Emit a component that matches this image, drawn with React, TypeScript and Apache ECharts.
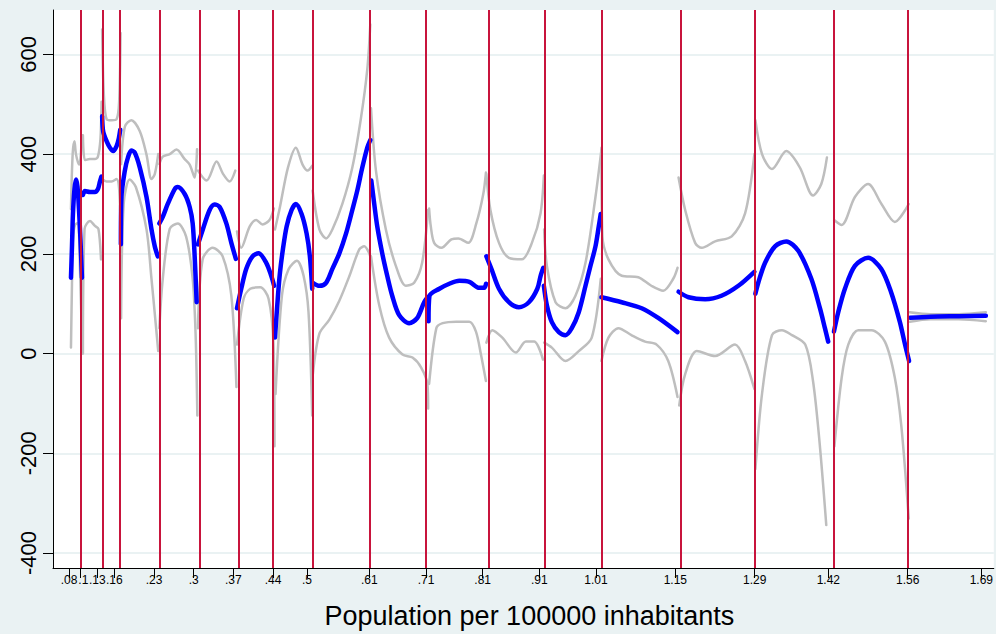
import React, { useEffect, useRef } from "react";
import * as echarts from "echarts";

const xTickValues = [0.08, 0.1, 0.13, 0.16, 0.23, 0.3, 0.37, 0.44, 0.5, 0.61, 0.71, 0.81, 0.91, 1.01, 1.15, 1.29, 1.42, 1.56, 1.69];
const xTickLabels = [".08", ".1", ".13", ".16", ".23", ".3", ".37", ".44", ".5", ".61", ".71", ".81", ".91", "1.01", "1.15", "1.29", "1.42", "1.56", "1.69"];
const yTickValues = [-400, -200, 0, 200, 400, 600];
const knotValues = [0.1046, 0.138, 0.1716, 0.238, 0.307, 0.376, 0.443, 0.5096, 0.613, 0.714, 0.816, 0.918, 1.018, 1.155, 1.291, 1.427, 1.562];

const fitSegments: number[][][] = [
  [[0.0835, 152], [0.0853, 215], [0.087, 280], [0.0897, 330], [0.0923, 349], [0.095, 335], [0.0976, 290], [0.1002, 230], [0.1029, 152]],
  [[0.1046, 318], [0.1082, 326], [0.117, 324], [0.1258, 324], [0.1311, 330], [0.1346, 345], [0.1372, 355]],
  [[0.1385, 476], [0.1404, 445], [0.1464, 426], [0.1522, 413], [0.158, 406], [0.164, 416], [0.168, 432], [0.1705, 449]],
  [[0.1716, 219], [0.1726, 314], [0.1786, 367], [0.184, 393], [0.19, 407], [0.196, 403], [0.205, 373], [0.2168, 314], [0.2256, 249], [0.2314, 215], [0.2367, 195]],
  [[0.2395, 261], [0.2455, 274], [0.2543, 300], [0.2666, 330], [0.2719, 334], [0.2842, 320], [0.293, 294], [0.2983, 261], [0.3018, 195], [0.3053, 103]],
  [[0.3076, 219], [0.3159, 248], [0.3282, 288], [0.337, 299], [0.3459, 294], [0.3577, 261], [0.3665, 222], [0.3745, 190]],
  [[0.3765, 91], [0.384, 130], [0.3929, 170], [0.4039, 195], [0.4145, 201], [0.4281, 182], [0.4369, 156], [0.442, 136]],
  [[0.4435, 32], [0.4488, 116], [0.4523, 162], [0.4575, 209], [0.4641, 255], [0.4729, 288], [0.4804, 300], [0.4905, 280], [0.4993, 241], [0.5051, 195], [0.5092, 130]],
  [[0.5104, 142], [0.5219, 136], [0.5337, 142], [0.5448, 170], [0.5571, 201], [0.569, 241], [0.58, 288], [0.5888, 327], [0.5976, 373], [0.6064, 413], [0.6117, 428]],
  [[0.6135, 347], [0.6187, 300], [0.624, 255], [0.6328, 201], [0.6416, 156], [0.6504, 116], [0.6627, 77], [0.6803, 61], [0.6944, 71], [0.7068, 103], [0.713, 113]],
  [[0.7145, 65], [0.716, 115], [0.7336, 130], [0.7512, 140], [0.7688, 146], [0.7864, 144], [0.804, 132], [0.8128, 132], [0.816, 140]],
  [[0.8166, 195], [0.8254, 170], [0.8388, 130], [0.8564, 103], [0.874, 93], [0.8916, 103], [0.9065, 130], [0.9123, 156], [0.917, 172]],
  [[0.918, 136], [0.9233, 97], [0.9321, 63], [0.9444, 43], [0.9562, 37], [0.9673, 51], [0.9796, 83], [0.9915, 136], [1.0003, 176], [1.0091, 215], [1.0149, 255], [1.0184, 280]],
  [[1.0196, 113], [1.0554, 103], [1.0906, 91], [1.1205, 71], [1.1539, 43]],
  [[1.1557, 124], [1.1733, 113], [1.2027, 109], [1.2314, 116], [1.2613, 136], [1.2895, 164]],
  [[1.2913, 120], [1.2966, 143], [1.3084, 182], [1.326, 215], [1.3459, 225], [1.367, 206], [1.39, 150], [1.4052, 91], [1.414, 51], [1.4198, 24]],
  [[1.4299, 44], [1.4375, 83], [1.4493, 130], [1.4669, 176], [1.4903, 192], [1.5132, 170], [1.5308, 123], [1.5461, 64], [1.5554, 18], [1.5625, -15]],
  [[1.564, 72], [1.6, 74], [1.65, 75], [1.698, 76]],
];

const upperSegments: number[][][] = [
  [[0.0835, 290], [0.0865, 400], [0.0897, 426], [0.0923, 400], [0.0976, 379], [0.1002, 390], [0.1029, 438]],
  [[0.1046, 438], [0.1082, 388], [0.117, 390], [0.1258, 390], [0.1311, 395], [0.1355, 430], [0.1375, 505]],
  [[0.1385, 650], [0.1415, 520], [0.1464, 470], [0.1552, 468], [0.164, 470], [0.1685, 505], [0.171, 643]],
  [[0.172, 380], [0.1786, 455], [0.19, 468], [0.205, 446], [0.2168, 399], [0.2256, 350], [0.2314, 360], [0.2375, 400]],
  [[0.2395, 380], [0.2455, 395], [0.2578, 400], [0.2696, 409], [0.2842, 390], [0.293, 379], [0.3018, 353], [0.306, 410]],
  [[0.3076, 367], [0.3229, 347], [0.3405, 385], [0.352, 360], [0.3634, 345], [0.3735, 367]],
  [[0.3765, 245], [0.384, 212], [0.399, 255], [0.4105, 268], [0.4216, 259], [0.4339, 268], [0.4416, 291]],
  [[0.4435, 249], [0.4523, 294], [0.4664, 373], [0.4804, 413], [0.4922, 379], [0.5011, 367], [0.5096, 377]],
  [[0.51, 327], [0.5219, 249], [0.5337, 231], [0.5448, 249], [0.5624, 300], [0.58, 373], [0.5952, 472], [0.6064, 570], [0.6117, 660]],
  [[0.613, 492], [0.6217, 367], [0.6392, 249], [0.6568, 176], [0.6744, 136], [0.6891, 142], [0.7032, 182], [0.7138, 288]],
  [[0.7155, 291], [0.7185, 255], [0.7244, 222], [0.7372, 212], [0.7548, 229], [0.7671, 231], [0.7847, 222], [0.7988, 261], [0.8111, 320], [0.8158, 363]],
  [[0.8166, 360], [0.8237, 288], [0.8388, 222], [0.8564, 192], [0.8793, 189], [0.8969, 222], [0.9121, 281], [0.918, 357]],
  [[0.9185, 249], [0.9233, 176], [0.9386, 103], [0.9562, 91], [0.9738, 116], [0.9915, 182], [1.0091, 314], [1.0196, 409]],
  [[1.0196, 413], [1.0214, 235], [1.032, 189], [1.0554, 156], [1.0847, 153], [1.1076, 136], [1.1287, 126], [1.1463, 150], [1.1539, 172]],
  [[1.1557, 353], [1.1674, 288], [1.185, 222], [1.1967, 212], [1.2202, 225], [1.2495, 235], [1.2731, 281], [1.2895, 400]],
  [[1.2913, 468], [1.303, 400], [1.3206, 370], [1.3459, 406], [1.3694, 374], [1.393, 317], [1.4076, 340], [1.4175, 393]],
  [[1.4302, 268], [1.4436, 258], [1.4669, 314], [1.4903, 340], [1.5138, 300], [1.5373, 264], [1.5619, 300]],
  [[1.5637, 83], [1.6, 79], [1.65, 79], [1.698, 83]],
];

const lowerSegments: number[][][] = [
  [[0.0835, 12], [0.0853, 140], [0.087, 230], [0.0906, 258], [0.0958, 262], [0.0994, 170], [0.1035, 0]],
  [[0.1046, 0], [0.1075, 250], [0.117, 266], [0.1258, 256], [0.132, 250], [0.1365, 189]],
  [[0.1385, 350], [0.1464, 345], [0.1552, 345], [0.164, 350], [0.1685, 330], [0.1712, 250]],
  [[0.172, 71], [0.1765, 300], [0.187, 349], [0.198, 334], [0.2168, 249], [0.2256, 150], [0.2314, 80], [0.2375, 5]],
  [[0.2395, 51], [0.2455, 150], [0.2578, 250], [0.2719, 261], [0.2866, 235], [0.2983, 150], [0.3035, 37], [0.3065, -124]],
  [[0.3076, 51], [0.3159, 189], [0.3335, 212], [0.3512, 195], [0.3665, 116], [0.3755, -67]],
  [[0.3765, 18], [0.3882, 110], [0.3999, 130], [0.4175, 133], [0.4322, 110], [0.4409, 18], [0.4427, -186]],
  [[0.4445, -81], [0.4558, 116], [0.4675, 169], [0.4822, 186], [0.494, 156], [0.5027, 83], [0.5092, -124]],
  [[0.5104, -41], [0.5219, 40], [0.5395, 68], [0.5571, 106], [0.5747, 155], [0.5923, 209], [0.6011, 215], [0.6099, 201], [0.6125, 190]],
  [[0.613, 195], [0.6275, 97], [0.645, 32], [0.6686, -2], [0.6862, -8], [0.7015, -28], [0.7125, -61], [0.7138, -110]],
  [[0.7155, -61], [0.7283, 51], [0.7394, 61], [0.7635, 64], [0.7864, 64], [0.7982, 44], [0.807, -2], [0.8158, -55]],
  [[0.8166, 22], [0.8271, 47], [0.8447, 32], [0.8687, 2], [0.8863, 24], [0.9009, 24], [0.9165, -12]],
  [[0.9185, 22], [0.9321, 12], [0.9562, -15], [0.9796, 5], [1.0025, 32], [1.0184, 150]],
  [[1.0196, -15], [1.032, 32], [1.0496, 51], [1.0725, 37], [1.0966, 24], [1.117, 18], [1.1375, -15], [1.1539, -87]],
  [[1.1569, -104], [1.1674, -41], [1.188, 5], [1.2202, -5], [1.2554, 18], [1.2731, -15], [1.2895, -71]],
  [[1.2913, -232], [1.303, -81], [1.3206, 37], [1.3382, 47], [1.3558, 37], [1.3793, 18], [1.393, -55], [1.4047, -180], [1.4164, -344]],
  [[1.4307, -186], [1.4436, -48], [1.4552, 18], [1.4728, 47], [1.4963, 47], [1.5198, 24], [1.5373, -48], [1.549, -147], [1.5619, -331]],
  [[1.5637, 64], [1.6, 69], [1.65, 69], [1.698, 65]],
];

const FONT = "Liberation Sans, Arial, sans-serif";
const X_MIN = 0.0518;
const X_MAX = 1.712;

function lineSeries(data: number[][], color: string, width: number, z: number) {
  return {
    type: "line",
    data,
    symbol: "none",
    showSymbol: false,
    smooth: 0.3,
    silent: true,
    z,
    lineStyle: { color, width, cap: "round", join: "round" },
  };
}

function tickLabel(v: number) {
  const i = xTickValues.findIndex((t) => Math.abs(t - v) < 1e-6);
  return i >= 0 ? xTickLabels[i] : "";
}

export default function App() {
  const ref = useRef<HTMLDivElement>(null);
  useEffect(() => {
    const chart = echarts.init(ref.current as HTMLDivElement, null, { renderer: "svg" });
    const series: any[] = [];
    series.push({
      type: "line",
      data: [],
      z: 1,
      silent: true,
      markLine: {
        silent: true,
        symbol: ["none", "none"],
        label: { show: false },
        animation: false,
        lineStyle: { color: "#C8143C", width: 2, type: "solid" },
        data: knotValues.map((v) => ({ xAxis: v })),
      },
    });
    upperSegments.forEach((s) => series.push(lineSeries(s, "#BEBEBE", 2.5, 2)));
    lowerSegments.forEach((s) => series.push(lineSeries(s, "#BEBEBE", 2.5, 2)));
    fitSegments.forEach((s) => series.push(lineSeries(s, "#0000FF", 4.5, 3)));

    // the crowded ".08" / ".1" pair: ".1" goes on an overlaid axis so both stay visible
    const mainLabels = xTickValues.filter((_, i) => i !== 1);
    const extraLabels = [xTickValues[1]];

    const labelStyle = {
      fontSize: 12,
      color: "#000000",
      margin: 6,
      fontFamily: FONT,
      formatter: tickLabel,
    };

    chart.setOption({
      animation: false,
      backgroundColor: "#EAF2F3",
      textStyle: { fontFamily: FONT },
      grid: { left: 53, right: 0, top: 10, bottom: 57, show: true, backgroundColor: "#FFFFFF", borderWidth: 0 },
      xAxis: [
        {
          type: "value",
          min: X_MIN,
          max: X_MAX,
          axisLine: { show: true, onZero: false, lineStyle: { color: "#000000", width: 1 } },
          axisTick: { show: true, length: 10, customValues: xTickValues, lineStyle: { color: "#000000" } },
          axisLabel: { ...labelStyle, customValues: mainLabels },
          splitLine: { show: false },
          name: "Population per 100000 inhabitants",
          nameLocation: "middle",
          nameGap: 34,
          nameTextStyle: { fontSize: 27, color: "#000000", fontFamily: FONT, padding: [0, 0, 0, 12] },
        },
        {
          type: "value",
          min: X_MIN,
          max: X_MAX,
          position: "bottom",
          axisLine: { show: false, onZero: false },
          axisTick: { show: false, length: 10, customValues: extraLabels },
          axisLabel: { ...labelStyle, customValues: extraLabels, padding: [0, 0, 0, 6] },
          splitLine: { show: false },
        },
      ],
      yAxis: {
        type: "value",
        min: -430,
        max: 689,
        axisLine: { show: true, onZero: false, lineStyle: { color: "#000000", width: 1 } },
        axisTick: { show: true, length: 10, customValues: yTickValues, lineStyle: { color: "#000000" } },
        axisLabel: {
          customValues: yTickValues,
          rotate: 90,
          fontSize: 22,
          color: "#000000",
          margin: 14,
          fontFamily: FONT,
        },
        splitLine: { show: true, lineStyle: { color: "#EAF2F3", width: 2 } },
      },
      series,
    });
    return () => chart.dispose();
  }, []);
  return <div ref={ref} style={{ position: "fixed", left: 0, top: 0, width: 996, height: 634 }} />;
}
